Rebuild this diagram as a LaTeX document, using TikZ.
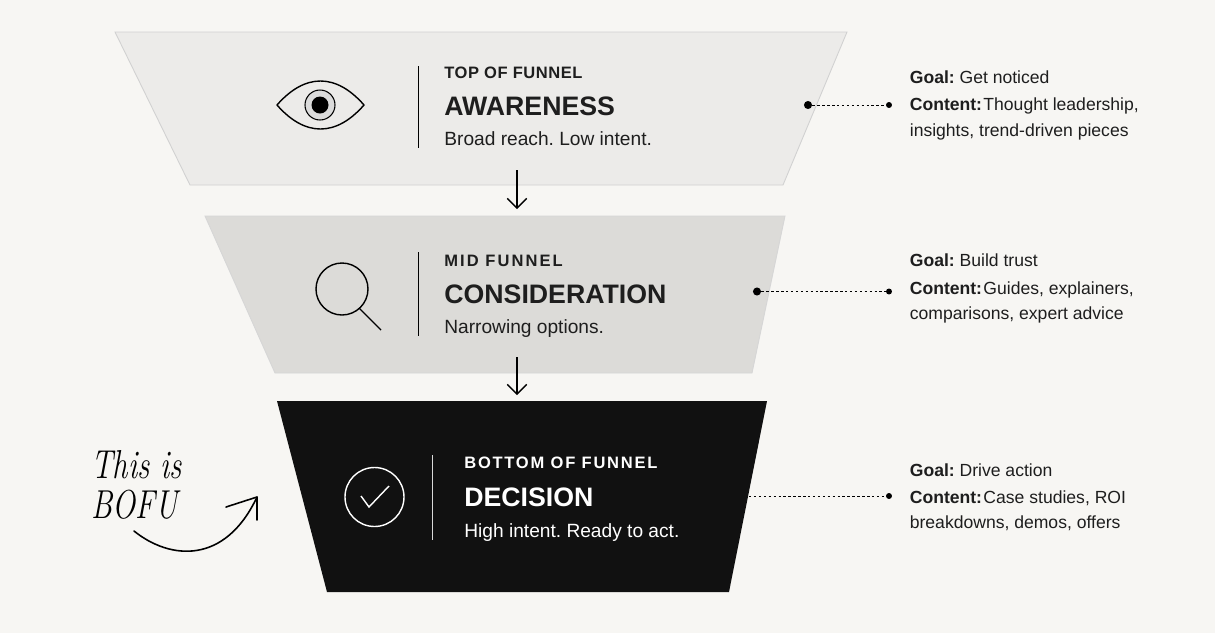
\documentclass[tikz,border=0pt]{standalone}
\usepackage{fontspec}
\setmainfont{Liberation Sans}
\newfontfamily\handfont[FakeStretch=0.76]{Latin Modern Roman}
\usetikzlibrary{arrows.meta}
\definecolor{paper}{HTML}{F7F6F3}
\definecolor{topfill}{HTML}{ECEBE9}
\definecolor{midfill}{HTML}{DCDBD8}
\definecolor{inkblack}{HTML}{111111}
\definecolor{textgrey}{HTML}{1E1E1E}
\frenchspacing
\tikzset{
	label/.style={anchor=base west, inner sep=0pt, text=textgrey, font=\fontsize{9.4}{11}\selectfont\bfseries\addfontfeature{LetterSpace=#1}},
	title/.style={anchor=base west, inner sep=0pt, text=textgrey, font=\fontsize{15.2}{18}\selectfont\bfseries},
	blurb/.style={anchor=base west, inner sep=0pt, text=textgrey, font=\fontsize{10.9}{14}\selectfont},
	note/.style={anchor=base west, inner sep=0pt, text=textgrey, font=\fontsize{10}{13}\selectfont},
	hand/.style={anchor=base west, inner sep=0pt, font=\fontsize{23}{26}\handfont\itshape},
	dotend/.style={circle, fill=black, inner sep=0pt, minimum size=#1},
	link/.style={dash pattern=on 1.4pt off 1.4pt, line width=0.5pt},
	flow/.style={line width=0.8pt, -{Straight Barb[length=5.5pt, width=11pt, line width=0.8pt]}},
}

\begin{document}
\begin{tikzpicture}[x=0.02cm, y=-0.02cm]
	\fill[paper] (0, 0) rectangle (1215, 633);
	\useasboundingbox (0, 0) rectangle (1215, 633);

	% funnel bands
	\draw[fill=topfill, draw=black!18, line width=0.5pt] (115, 32) -- (847, 32) -- (783, 185) -- (190, 185) -- cycle;
	\draw[fill=midfill, draw=black!16, line width=0.5pt] (205, 216) -- (785, 216) -- (752, 373) -- (275, 373) -- cycle;
	\fill[inkblack] (277, 401) -- (767, 401) -- (729, 592) -- (327, 592) -- cycle;

	% arrows between bands
	\coordinate (top out) at (517, 170);
	\coordinate (mid in) at (517, 209);
	\coordinate (mid out) at (517, 357);
	\coordinate (bot in) at (517, 395);
	\draw[flow] (top out) -- (mid in);
	\draw[flow] (mid out) -- (bot in);

	% eye
	\draw[line width=0.8pt, line join=round] (277, 105) .. controls (305, 73) and (336, 73) .. (364, 105) .. controls (336, 137) and (305, 137) .. (277, 105) -- cycle;
	\draw[fill=black!14, line width=0.6pt] (320, 105) circle (15);
	\fill[black] (320, 105) circle (8.5);
	\draw[line width=0.55pt] (418, 66) -- (418, 148);

	% magnifier
	\draw[line width=0.8pt] (342, 289) circle (26);
	\draw[line width=0.8pt] (359, 308) -- (381, 330);
	\draw[line width=0.55pt] (418, 252) -- (418, 336);

	% check
	\draw[white, line width=0.8pt] (374.5, 497) circle (29.5);
	\draw[white, line width=0.8pt] (361, 496) -- (369, 507) -- (389, 486);
	\draw[white!85!black, line width=0.55pt] (432, 455) -- (432, 540);

	% band texts
	\node[label=3.3] (top label) at (444, 78.5) {TOP OF FUNNEL};
	\node[title] (top title) at (444, 115) {AWARENESS};
	\node[blurb] (top blurb) at (444, 145.5) {Broad reach. Low intent.};

	\node[label=12.5] (mid label) at (444, 266.5) {MID FUNNEL};
	\node[title] (mid title) at (444, 303) {CONSIDERATION};
	\node[blurb] (mid blurb) at (444, 333.5) {Narrowing options.};

	\node[label=10.6, text=white] (bot label) at (464, 468) {BOTTOM OF FUNNEL};
	\node[title, text=white] (bot title) at (464, 506) {DECISION};
	\node[blurb, text=white] (bot blurb) at (464, 537.5) {High intent. Ready to act.};

	% leader lines
	\node[dotend=4.6pt] (top start) at (808, 105) {};
	\node[dotend=3.4pt] (top end) at (889, 105) {};
	\draw[link] (top start) -- (top end);
	\node[dotend=4.6pt] (mid start) at (757, 291.5) {};
	\node[dotend=3.4pt] (mid end) at (889, 291.5) {};
	\draw[link] (mid start) -- (mid end);
	\coordinate (bot start) at (749, 496);
	\node[dotend=3.4pt] (bot end) at (889, 496) {};
	\draw[link] (bot start) -- (bot end);

	% notes
	\node[note] (top goal) at (909.5, 83.5) {\textbf{Goal:} Get noticed};
	\node[note] (top content) at (909.5, 110.5) {\textbf{Content:}\hspace{0.08em}Thought leadership,};
	\node[note] (top more) at (909.5, 136) {insights, trend-driven pieces};

	\node[note] (mid goal) at (909.5, 266.5) {\textbf{Goal:} Build trust};
	\node[note] (mid content) at (909.5, 294.5) {\textbf{Content:}\hspace{0.08em}Guides, explainers,};
	\node[note] (mid more) at (909.5, 319.5) {comparisons, expert advice};

	\node[note] (bot goal) at (909.5, 476) {\textbf{Goal:} Drive action};
	\node[note] (bot content) at (909.5, 503.5) {\textbf{Content:}\hspace{0.08em}Case studies, ROI};
	\node[note] (bot more) at (909.5, 528.5) {breakdowns, demos, offers};

	% hand note
	\node[hand] (hand top) at (91, 478) {This is};
	\node[hand] (hand bot) at (91, 518) {BOFU};
	\coordinate (hand start) at (134, 531);
	\coordinate (hand end) at (257, 497);
	\draw[line width=0.9pt, line cap=round, line join=round] (hand start) .. controls (170, 560) and (225, 565) .. (hand end);
	\draw[line width=0.9pt, line cap=round, line join=round] (226, 507) -- (hand end) -- (257, 520);
\end{tikzpicture}
\end{document}
